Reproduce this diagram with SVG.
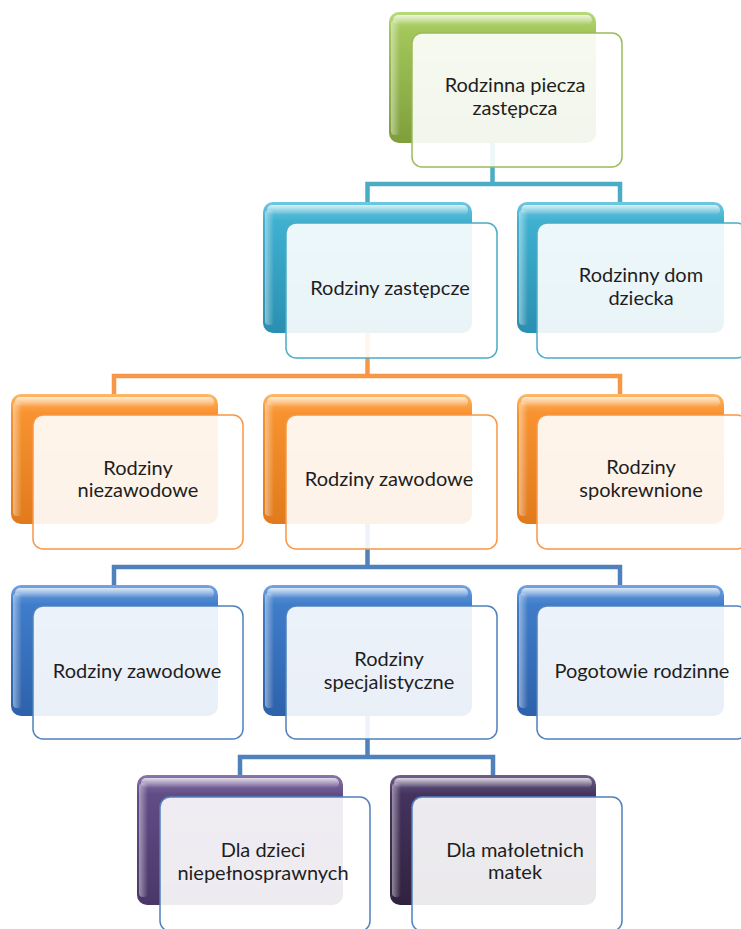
<svg xmlns="http://www.w3.org/2000/svg" width="741" height="929" viewBox="0 0 741 929">
<defs>
<style>
.back{stroke:none}
.front{fill:#ffffff;fill-opacity:0.9;stroke-width:1.5}
.t{font-family:Lato,"Open Sans","Liberation Sans",sans-serif;font-size:20px;fill:#1e1e1e;text-anchor:middle}
.c{fill:none;stroke-width:4.5;stroke-linejoin:miter}
.hlT{fill:url(#hlTop)}
.hlL{fill:url(#hlLeft)}
</style>
<linearGradient id="gGreen" x1="0" y1="0" x2="0" y2="1"><stop offset="0" stop-color="#b8d978"/><stop offset="0.15" stop-color="#a2c65a"/><stop offset="1" stop-color="#7f9e3c"/></linearGradient>
<linearGradient id="gTeal" x1="0" y1="0" x2="0" y2="1"><stop offset="0" stop-color="#6fc8e0"/><stop offset="0.15" stop-color="#3fb0d0"/><stop offset="1" stop-color="#2a8fb0"/></linearGradient>
<linearGradient id="gOrange" x1="0" y1="0" x2="0" y2="1"><stop offset="0" stop-color="#ffb866"/><stop offset="0.15" stop-color="#f7922f"/><stop offset="1" stop-color="#e07a1c"/></linearGradient>
<linearGradient id="gBlue" x1="0" y1="0" x2="0" y2="1"><stop offset="0" stop-color="#74a4e0"/><stop offset="0.15" stop-color="#3f7cc9"/><stop offset="1" stop-color="#2d62ab"/></linearGradient>
<linearGradient id="gPurple" x1="0" y1="0" x2="0" y2="1"><stop offset="0" stop-color="#8a76aa"/><stop offset="0.15" stop-color="#624c86"/><stop offset="1" stop-color="#4a3768"/></linearGradient>
<linearGradient id="gPurpleD" x1="0" y1="0" x2="0" y2="1"><stop offset="0" stop-color="#6e5e88"/><stop offset="0.15" stop-color="#44335e"/><stop offset="1" stop-color="#30223f"/></linearGradient>
<linearGradient id="hlTop" x1="0" y1="0" x2="0" y2="1"><stop offset="0" stop-color="#ffffff" stop-opacity="0.75"/><stop offset="1" stop-color="#ffffff" stop-opacity="0"/></linearGradient>
<linearGradient id="hlLeft" x1="0" y1="0" x2="1" y2="0"><stop offset="0" stop-color="#ffffff" stop-opacity="0.45"/><stop offset="1" stop-color="#ffffff" stop-opacity="0"/></linearGradient>
</defs>
<rect width="741" height="929" fill="#ffffff"/>

<g id="connectors">
<path class="c" stroke="#4bacc6" d="M492.5 140 V184 M367.5 203 V184 H620 V203"/>
<path class="c" stroke="#f79646" d="M367.5 330 V376 M114 395 V376 H620 V395"/>
<path class="c" stroke="#4f81bd" d="M367.5 520 V567 M114 586 V567 H620 V586"/>
<path class="c" stroke="#4f81bd" d="M367.5 710 V757 M240 776 V757 H493 V776"/>
</g>

<g id="n-rodzinna-piecza">
<rect class="back" x="389" y="12" width="207" height="131" rx="10" fill="url(#gGreen)"/>
<rect class="hlT" x="393" y="15" width="199" height="10" rx="5"/>
<rect class="hlL" x="391" y="20" width="9" height="115" rx="4"/>
<rect class="front" x="412" y="33" width="210" height="134" rx="10" stroke="#9bbb59"/>
<text class="t" x="515" y="92">Rodzinna piecza</text>
<text class="t" x="515" y="115">zastępcza</text>
</g>

<g id="n-rodziny-zastepcze">
<rect class="back" x="263" y="202" width="209" height="131" rx="10" fill="url(#gTeal)"/>
<rect class="hlT" x="267" y="205" width="201" height="10" rx="5"/>
<rect class="hlL" x="265" y="210" width="9" height="115" rx="4"/>
<rect class="front" x="286" y="223" width="211" height="135" rx="10" stroke="#4bacc6"/>
<text class="t" x="390" y="295">Rodziny zastępcze</text>
</g>

<g id="n-rodzinny-dom">
<rect class="back" x="517" y="202" width="207" height="131" rx="10" fill="url(#gTeal)"/>
<rect class="hlT" x="521" y="205" width="199" height="10" rx="5"/>
<rect class="hlL" x="519" y="210" width="9" height="115" rx="4"/>
<rect class="front" x="537" y="223" width="210" height="135" rx="10" stroke="#4bacc6"/>
<text class="t" x="641" y="282">Rodzinny dom</text>
<text class="t" x="641" y="305">dziecka</text>
</g>

<g id="n-niezawodowe">
<rect class="back" x="11" y="394" width="207" height="130" rx="10" fill="url(#gOrange)"/>
<rect class="hlT" x="15" y="397" width="199" height="10" rx="5"/>
<rect class="hlL" x="13" y="402" width="9" height="114" rx="4"/>
<rect class="front" x="33" y="415" width="210" height="134" rx="10" stroke="#f79646"/>
<text class="t" x="138" y="475">Rodziny</text>
<text class="t" x="138" y="497">niezawodowe</text>
</g>

<g id="n-zawodowe-orange">
<rect class="back" x="263" y="394" width="209" height="130" rx="10" fill="url(#gOrange)"/>
<rect class="hlT" x="267" y="397" width="201" height="10" rx="5"/>
<rect class="hlL" x="265" y="402" width="9" height="114" rx="4"/>
<rect class="front" x="286" y="415" width="211" height="134" rx="10" stroke="#f79646"/>
<text class="t" x="389" y="486">Rodziny zawodowe</text>
</g>

<g id="n-spokrewnione">
<rect class="back" x="517" y="394" width="207" height="130" rx="10" fill="url(#gOrange)"/>
<rect class="hlT" x="521" y="397" width="199" height="10" rx="5"/>
<rect class="hlL" x="519" y="402" width="9" height="114" rx="4"/>
<rect class="front" x="537" y="415" width="210" height="134" rx="10" stroke="#f79646"/>
<text class="t" x="641" y="474">Rodziny</text>
<text class="t" x="641" y="497">spokrewnione</text>
</g>

<g id="n-zawodowe-blue">
<rect class="back" x="11" y="585" width="207" height="131" rx="10" fill="url(#gBlue)"/>
<rect class="hlT" x="15" y="588" width="199" height="10" rx="5"/>
<rect class="hlL" x="13" y="593" width="9" height="115" rx="4"/>
<rect class="front" x="33" y="606" width="210" height="133" rx="10" stroke="#4f81bd"/>
<text class="t" x="137" y="678">Rodziny zawodowe</text>
</g>

<g id="n-specjalistyczne">
<rect class="back" x="263" y="585" width="209" height="131" rx="10" fill="url(#gBlue)"/>
<rect class="hlT" x="267" y="588" width="201" height="10" rx="5"/>
<rect class="hlL" x="265" y="593" width="9" height="115" rx="4"/>
<rect class="front" x="286" y="606" width="211" height="133" rx="10" stroke="#4f81bd"/>
<text class="t" x="389" y="666">Rodziny</text>
<text class="t" x="389" y="689">specjalistyczne</text>
</g>

<g id="n-pogotowie">
<rect class="back" x="517" y="585" width="207" height="131" rx="10" fill="url(#gBlue)"/>
<rect class="hlT" x="521" y="588" width="199" height="10" rx="5"/>
<rect class="hlL" x="519" y="593" width="9" height="115" rx="4"/>
<rect class="front" x="537" y="606" width="210" height="133" rx="10" stroke="#4f81bd"/>
<text class="t" x="642" y="678">Pogotowie rodzinne</text>
</g>

<g id="n-niepelnosprawnych">
<rect class="back" x="137" y="775" width="206" height="130" rx="10" fill="url(#gPurple)"/>
<rect class="hlT" x="141" y="778" width="198" height="10" rx="5"/>
<rect class="hlL" x="139" y="783" width="9" height="114" rx="4"/>
<rect class="front" x="160" y="797" width="210" height="134" rx="10" stroke="#4f81bd"/>
<text class="t" x="263" y="857">Dla dzieci</text>
<text class="t" x="263" y="880">niepełnosprawnych</text>
</g>

<g id="n-maloletnich">
<rect class="back" x="390" y="775" width="206" height="130" rx="10" fill="url(#gPurpleD)"/>
<rect class="hlT" x="394" y="778" width="198" height="10" rx="5"/>
<rect class="hlL" x="392" y="783" width="9" height="114" rx="4"/>
<rect class="front" x="412" y="797" width="210" height="134" rx="10" stroke="#4f81bd"/>
<text class="t" x="515" y="857">Dla małoletnich</text>
<text class="t" x="515" y="879">matek</text>
</g>
</svg>
